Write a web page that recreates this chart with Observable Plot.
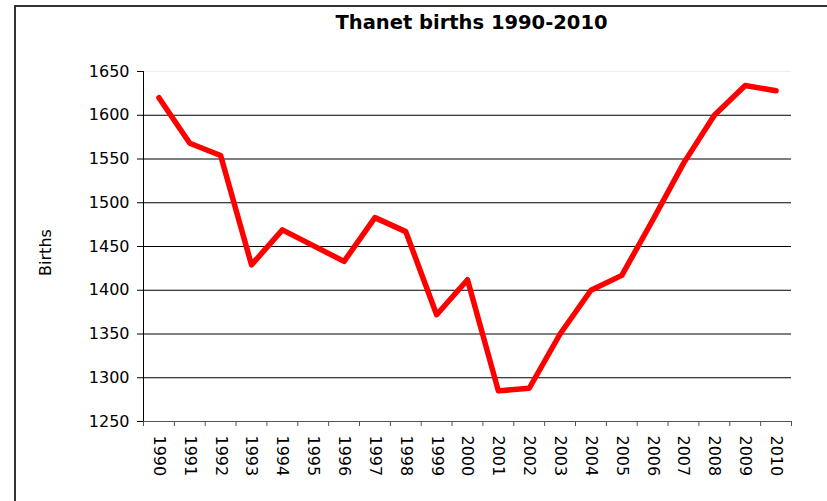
<!DOCTYPE html>
<html><head><meta charset="utf-8">
<script src="https://cdn.jsdelivr.net/npm/d3@7"></script>
<script src="https://cdn.jsdelivr.net/npm/@observablehq/plot@0.6"></script>
<style>
html,body{margin:0;padding:0;background:#fff;overflow:hidden;}
#wrap{position:relative;width:827px;height:501px;}
#border{position:absolute;left:14px;top:5px;width:900px;height:600px;border:2px solid #333;box-sizing:border-box;pointer-events:none;}
#wrap svg{position:absolute;left:0;top:0;}
</style></head><body><div id="wrap"><div id="border"></div></div>
<script>
const years = [1990,1991,1992,1993,1994,1995,1996,1997,1998,1999,2000,2001,2002,2003,2004,2005,2006,2007,2008,2009,2010];
const births = [1620,1568,1554,1429,1469,1451,1433,1483,1467,1372,1412,1285,1288,1350,1400,1417,1480,1545,1600,1634,1628];
const yTicks = [1250,1300,1350,1400,1450,1500,1550,1600,1650];
const title = "Thanet births 1990-2010";
const yLabel = "Births";

const data = years.map((year, i) => ({year, births: births[i]}));
const boundaries = years.map(y => y - 0.5).concat([years[years.length - 1] + 0.5]);
const yMin = yTicks[0], yMax = yTicks[yTicks.length - 1];

const chart = Plot.plot({
  width: 827, height: 501,
  marginLeft: 143, marginRight: 36, marginTop: 71, marginBottom: 80,
  style: {fontFamily: "'DejaVu Sans', Verdana, sans-serif", fontSize: "16px", background: "transparent", color: "#000"},
  x: {type: "linear", domain: [boundaries[0], boundaries[boundaries.length - 1]]},
  y: {domain: [yMin, yMax]},
  marks: [
    Plot.ruleY(yTicks.filter(t => t > yMin && t < yMax), {stroke: "#000", strokeWidth: 1}),
    Plot.ruleY([yMax], {stroke: "#ececec"}),
    Plot.axisY({ticks: yTicks, tickSize: 6, tickPadding: 8, tickFormat: d => String(d), label: null, fontSize: 16}),
    Plot.ruleX([boundaries[0]], {stroke: "#000"}),
    Plot.ruleY([yMin], {stroke: "#555"}),
    Plot.axisX({ticks: boundaries, tickSize: 5, tickFormat: () => "", label: null, stroke: "#555"}),
    Plot.axisX({ticks: years, tickSize: 0, tickRotate: 90, tickPadding: 14, tickFormat: d => String(d), label: null, fontSize: 16}),
    Plot.lineY(data, {x: "year", y: "births", stroke: "#ff0000", strokeWidth: 5.5, strokeLinejoin: "round", strokeLinecap: "round"}),
    Plot.text([title], {frameAnchor: "top", dx: 4, dy: -56, fontWeight: "bold", fontSize: 19.5}),
    Plot.text([yLabel], {frameAnchor: "left", textAnchor: "middle", dx: -98, dy: 6, rotate: -90, fontSize: 16})
  ]
});
document.getElementById("wrap").prepend(chart);
</script>
</body></html>
